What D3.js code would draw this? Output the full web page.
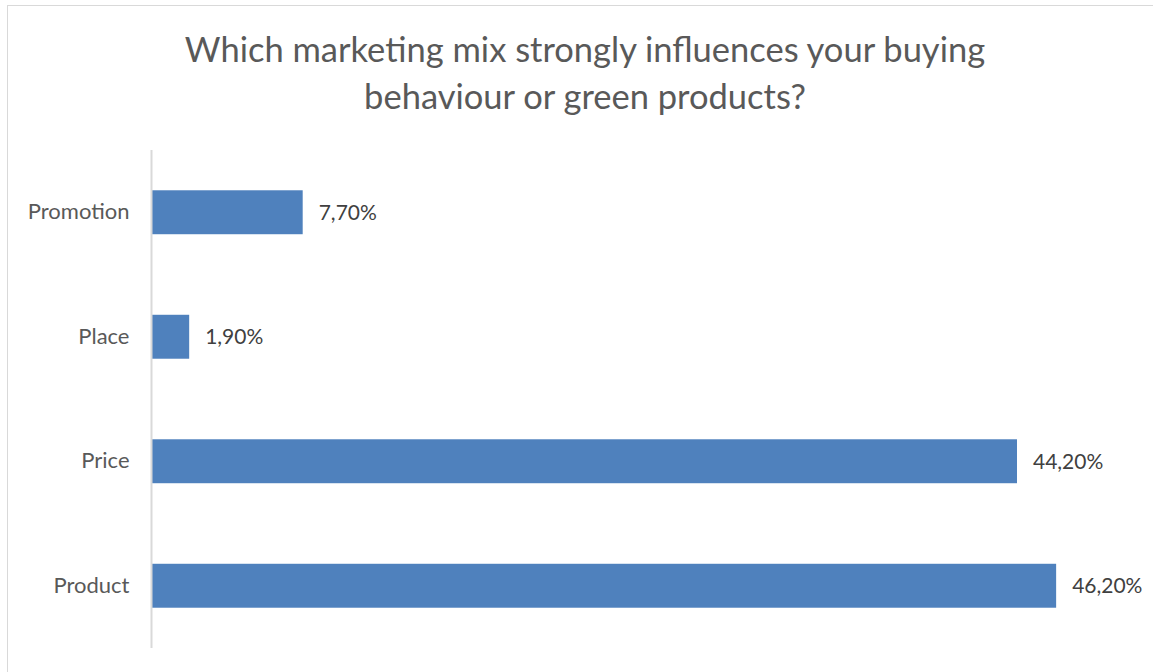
<!DOCTYPE html>
<html>
<head>
<meta charset="utf-8">
<script src="https://cdn.jsdelivr.net/npm/d3@7"></script>
<style>
  body { margin: 0; background: #fff; }
  svg { display: block; font-family: Lato, "Open Sans", sans-serif; }
</style>
</head>
<body>
<svg width="1153" height="672"></svg>
<script>
const categories = ['Product', 'Price', 'Place', 'Promotion'];
const values = [46.2, 44.2, 1.9, 7.7];
const labels = ['46,20%', '44,20%', '1,90%', '7,70%'];
const titleLines = ['Which marketing mix strongly influences your buying', 'behaviour or green products?'];

const svg = d3.select('svg');

// chart border
svg.append('rect')
  .attr('x', 7.5).attr('y', 5.5)
  .attr('width', 1160).attr('height', 700)
  .attr('fill', 'none')
  .attr('stroke', '#d9d9d9');

svg.append('g')
  .selectAll('text')
  .data(titleLines)
  .join('text')
  .attr('x', 585)
  .attr('y', (d, i) => 62 + i * 47)
  .attr('text-anchor', 'middle')
  .attr('font-size', 34.5)
  .attr('fill', '#595959')
  .text(d => d);

const x = d3.scaleLinear().domain([0, 50]).range([152, 1130.5]);
const y = d3.scaleBand()
  .domain(categories.slice().reverse())
  .range([150, 648])
  .paddingInner(0.647)
  .paddingOuter(0.3235);

const data = categories.map((c, i) => ({ cat: c, v: values[i], label: labels[i] }));

svg.append('g')
  .selectAll('rect')
  .data(data)
  .join('rect')
  .attr('x', x(0))
  .attr('y', d => y(d.cat))
  .attr('width', d => x(d.v) - x(0))
  .attr('height', y.bandwidth())
  .attr('fill', '#4f81bd');

svg.append('g')
  .selectAll('text')
  .data(data)
  .join('text')
  .attr('x', d => x(d.v) + 16)
  .attr('y', d => y(d.cat) + y.bandwidth() / 2)
  .attr('dy', '0.35em')
  .attr('font-size', 21)
  .attr('fill', '#404040')
  .text(d => d.label);

const axis = svg.append('g')
  .attr('transform', `translate(${x(0) - 0.5},0)`)
  .call(d3.axisLeft(y).tickSize(0).tickPadding(22));
axis.select('.domain')
  .attr('stroke', '#d9d9d9')
  .attr('stroke-width', 2)
  .attr('d', 'M0,150V648');
axis.selectAll('text')
  .attr('font-size', 22)
  .attr('font-family', 'Lato, "Open Sans", sans-serif')
  .attr('fill', '#595959');
</script>
</body>
</html>
